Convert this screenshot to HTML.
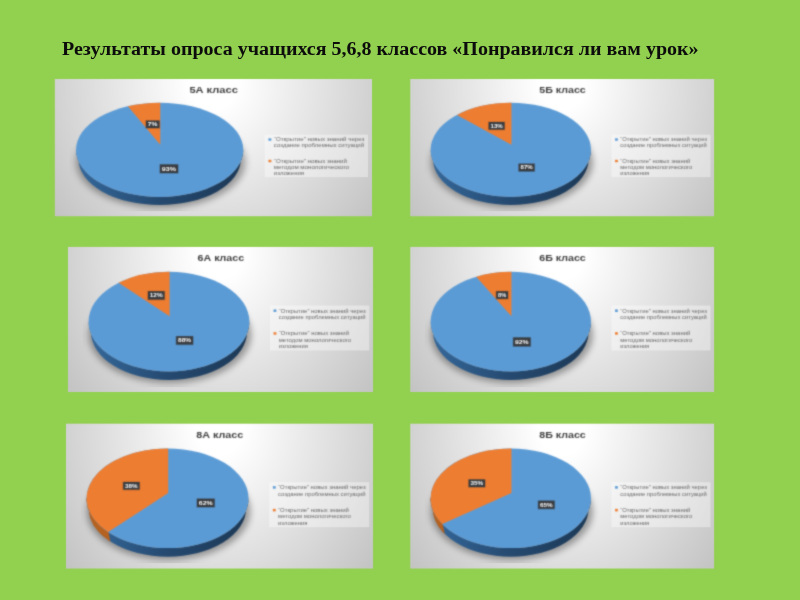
<!DOCTYPE html>
<html lang="ru">
<head>
<meta charset="utf-8">
<title>Результаты опроса</title>
<style>
html,body{margin:0;padding:0;}
body{width:800px;height:600px;overflow:hidden;background:#92d050;position:relative;
font-family:"Liberation Sans",sans-serif;}
.ttl{position:absolute;left:62.3px;top:36.7px;transform:scaleX(1.081);transform-origin:0 0;margin:0;white-space:nowrap;
font-family:"Liberation Serif",serif;font-weight:bold;font-size:18.5px;line-height:24px;color:#0c0c0c;
}
.root{position:absolute;left:0;top:0;display:block;}
.root text{font-family:"Liberation Sans",sans-serif;}
</style>
</head>
<body>
<h1 class="ttl">Результаты опроса учащихся 5,6,8 классов «Понравился ли вам урок»</h1>
<svg class="root" width="800" height="600" viewBox="0 0 800 600">
<defs>
<filter id="edge" x="-3%" y="-5%" width="106%" height="110%" color-interpolation-filters="sRGB">
<feConvolveMatrix order="3" kernelMatrix="1 6 1 6 36 6 1 6 1" edgeMode="none" preserveAlpha="false"/>
</filter>
</defs>

<g filter="url(#edge)"><svg x="54.6" y="79" width="317.4" height="137.4" viewBox="0 0 304 144.5" preserveAspectRatio="none" overflow="hidden">
<defs><radialGradient id="bgg0" gradientUnits="userSpaceOnUse" cx="0" cy="0" r="1" gradientTransform="translate(152 5) scale(190 220)"><stop offset="0" stop-color="#ffffff"/><stop offset="0.12" stop-color="#ffffff"/><stop offset="1" stop-color="#c4c4c4"/></radialGradient><linearGradient id="sbg0" x1="0" x2="1" y1="0" y2="0"><stop offset="0" stop-color="#34689b"/><stop offset="0.5" stop-color="#25496f"/><stop offset="1" stop-color="#1c3855"/></linearGradient><filter id="shg0" x="-20%" y="-20%" width="140%" height="160%"><feGaussianBlur stdDeviation="3.4"/></filter><filter id="blg0" x="-2%" y="-2%" width="104%" height="104%" color-interpolation-filters="sRGB"><feConvolveMatrix order="3" kernelMatrix="1 7 1 7 49 7 1 7 1" edgeMode="duplicate" preserveAlpha="false"/></filter></defs>
<rect x="0" y="0" width="304" height="144.5" fill="url(#bgg0)"/>
<rect x="201.2" y="58.5" width="99" height="44.7" fill="#ffffff" fill-opacity="0.38"/>
<g filter="url(#blg0)">
<ellipse cx="101.62" cy="87.5" rx="81.12" ry="48.5" fill="#000" fill-opacity="0.34" filter="url(#shg0)"/>
<path d="M20.5 74.5 A80.12 49.5 0 0 0 180.75 74.5 L178.35 84.5 A77.72 48.02 0 0 1 22.9 84.5 Z" fill="url(#sbg0)"/>
<ellipse cx="100.62" cy="74.5" rx="80.12" ry="49.5" fill="#5b9bd5"/>
<path d="M101.25 69.25 L101.25 25 A80.12 49.5 0 0 0 70.22 28.7 Z" fill="#ed7d31"/>
<rect x="86.94" y="43.45" width="14.03" height="8.78" fill="#2a2d30" fill-opacity="0.35"/>
<rect x="87.54" y="43.75" width="12.83" height="7.78" fill="#383b3f"/>
<text x="93.96" y="49.69" text-anchor="middle" font-size="5.7" font-weight="bold" fill="#fff" textLength="9.23" lengthAdjust="spacingAndGlyphs">7%</text>
<rect x="100.35" y="89.62" width="18.44" height="9.94" fill="#2a2d30" fill-opacity="0.35"/>
<rect x="100.95" y="89.92" width="17.24" height="8.94" fill="#383b3f"/>
<text x="109.57" y="96.44" text-anchor="middle" font-size="5.7" font-weight="bold" fill="#fff" textLength="13.64" lengthAdjust="spacingAndGlyphs">93%</text>
<text x="152.3" y="14.3" text-anchor="middle" font-size="8.9" font-weight="bold" fill="#3c3c3c" textLength="46.4" lengthAdjust="spacingAndGlyphs">5А класс</text>
<rect x="204.8" y="62.4" width="2.8" height="2.5" fill="#5b9bd5"/>
<rect x="204.8" y="85.0" width="2.8" height="2.5" fill="#ed7d31"/>
<g>
<text x="210" y="65.6" font-size="5.15" fill="#686868" textLength="86.7" lengthAdjust="spacingAndGlyphs">“Открытие” новых знаний через</text>
<text x="210" y="72" font-size="5.15" fill="#686868" textLength="86.5" lengthAdjust="spacingAndGlyphs">создание проблемных ситуаций</text>
<text x="210" y="88.1" font-size="5.15" fill="#686868" textLength="70" lengthAdjust="spacingAndGlyphs">“Открытие” новых знаний</text>
<text x="210" y="94.4" font-size="5.15" fill="#686868" textLength="72" lengthAdjust="spacingAndGlyphs">методом монологического</text>
<text x="210" y="100.6" font-size="5.15" fill="#686868" textLength="29" lengthAdjust="spacingAndGlyphs">изложения</text>
</g>
</g>
</svg></g>
<g filter="url(#edge)"><svg x="410.15" y="79" width="304.15" height="137.4" viewBox="0 0 304 144.5" preserveAspectRatio="none" overflow="hidden">
<defs><radialGradient id="bgg1" gradientUnits="userSpaceOnUse" cx="0" cy="0" r="1" gradientTransform="translate(152 5) scale(190 220)"><stop offset="0" stop-color="#ffffff"/><stop offset="0.12" stop-color="#ffffff"/><stop offset="1" stop-color="#c4c4c4"/></radialGradient><linearGradient id="sbg1" x1="0" x2="1" y1="0" y2="0"><stop offset="0" stop-color="#34689b"/><stop offset="0.5" stop-color="#25496f"/><stop offset="1" stop-color="#1c3855"/></linearGradient><filter id="shg1" x="-20%" y="-20%" width="140%" height="160%"><feGaussianBlur stdDeviation="3.4"/></filter><filter id="blg1" x="-2%" y="-2%" width="104%" height="104%" color-interpolation-filters="sRGB"><feConvolveMatrix order="3" kernelMatrix="1 7 1 7 49 7 1 7 1" edgeMode="duplicate" preserveAlpha="false"/></filter></defs>
<rect x="0" y="0" width="304" height="144.5" fill="url(#bgg1)"/>
<rect x="201.2" y="58.5" width="99" height="44.7" fill="#ffffff" fill-opacity="0.38"/>
<g filter="url(#blg1)">
<ellipse cx="101.62" cy="87.5" rx="81.12" ry="48.5" fill="#000" fill-opacity="0.34" filter="url(#shg1)"/>
<path d="M20.5 74.5 A80.12 49.5 0 0 0 180.75 74.5 L178.35 84.5 A77.72 48.02 0 0 1 22.9 84.5 Z" fill="url(#sbg1)"/>
<ellipse cx="100.62" cy="74.5" rx="80.12" ry="49.5" fill="#5b9bd5"/>
<path d="M101.25 69.25 L101.25 25 A80.12 49.5 0 0 0 46.83 37.81 Z" fill="#ed7d31"/>
<rect x="77.96" y="44.92" width="16.94" height="8.89" fill="#2a2d30" fill-opacity="0.35"/>
<rect x="78.56" y="45.22" width="15.74" height="7.89" fill="#383b3f"/>
<text x="86.43" y="51.22" text-anchor="middle" font-size="5.7" font-weight="bold" fill="#fff" textLength="12.14" lengthAdjust="spacingAndGlyphs">13%</text>
<rect x="107.95" y="88.83" width="16.94" height="8.89" fill="#2a2d30" fill-opacity="0.35"/>
<rect x="108.55" y="89.13" width="15.74" height="7.89" fill="#383b3f"/>
<text x="116.42" y="95.12" text-anchor="middle" font-size="5.7" font-weight="bold" fill="#fff" textLength="12.14" lengthAdjust="spacingAndGlyphs">87%</text>
<text x="152.3" y="14.3" text-anchor="middle" font-size="8.9" font-weight="bold" fill="#3c3c3c" textLength="46.4" lengthAdjust="spacingAndGlyphs">5Б класс</text>
<rect x="204.8" y="62.4" width="2.8" height="2.5" fill="#5b9bd5"/>
<rect x="204.8" y="85.0" width="2.8" height="2.5" fill="#ed7d31"/>
<g>
<text x="210" y="65.6" font-size="5.15" fill="#686868" textLength="86.7" lengthAdjust="spacingAndGlyphs">“Открытие” новых знаний через</text>
<text x="210" y="72" font-size="5.15" fill="#686868" textLength="86.5" lengthAdjust="spacingAndGlyphs">создание проблемных ситуаций</text>
<text x="210" y="88.1" font-size="5.15" fill="#686868" textLength="70" lengthAdjust="spacingAndGlyphs">“Открытие” новых знаний</text>
<text x="210" y="94.4" font-size="5.15" fill="#686868" textLength="72" lengthAdjust="spacingAndGlyphs">методом монологического</text>
<text x="210" y="100.6" font-size="5.15" fill="#686868" textLength="29" lengthAdjust="spacingAndGlyphs">изложения</text>
</g>
</g>
</svg></g>
<g filter="url(#edge)"><svg x="68" y="246.7" width="305.1" height="145.3" viewBox="0 0 304 144.5" preserveAspectRatio="none" overflow="hidden">
<defs><radialGradient id="bgg2" gradientUnits="userSpaceOnUse" cx="0" cy="0" r="1" gradientTransform="translate(152 5) scale(190 220)"><stop offset="0" stop-color="#ffffff"/><stop offset="0.12" stop-color="#ffffff"/><stop offset="1" stop-color="#c4c4c4"/></radialGradient><linearGradient id="sbg2" x1="0" x2="1" y1="0" y2="0"><stop offset="0" stop-color="#34689b"/><stop offset="0.5" stop-color="#25496f"/><stop offset="1" stop-color="#1c3855"/></linearGradient><filter id="shg2" x="-20%" y="-20%" width="140%" height="160%"><feGaussianBlur stdDeviation="3.4"/></filter><filter id="blg2" x="-2%" y="-2%" width="104%" height="104%" color-interpolation-filters="sRGB"><feConvolveMatrix order="3" kernelMatrix="1 7 1 7 49 7 1 7 1" edgeMode="duplicate" preserveAlpha="false"/></filter></defs>
<rect x="0" y="0" width="304" height="144.5" fill="url(#bgg2)"/>
<rect x="201.2" y="58.5" width="99" height="44.7" fill="#ffffff" fill-opacity="0.38"/>
<g filter="url(#blg2)">
<ellipse cx="101.62" cy="87.5" rx="81.12" ry="48.5" fill="#000" fill-opacity="0.34" filter="url(#shg2)"/>
<path d="M20.5 74.5 A80.12 49.5 0 0 0 180.75 74.5 L178.35 84.5 A77.72 48.02 0 0 1 22.9 84.5 Z" fill="url(#sbg2)"/>
<ellipse cx="100.62" cy="74.5" rx="80.12" ry="49.5" fill="#5b9bd5"/>
<path d="M101.25 69.25 L101.25 25 A80.12 49.5 0 0 0 50.39 35.94 Z" fill="#ed7d31"/>
<rect x="79.11" y="44" width="17.64" height="9.2" fill="#2a2d30" fill-opacity="0.35"/>
<rect x="79.71" y="44.3" width="16.44" height="8.2" fill="#383b3f"/>
<text x="87.93" y="50.46" text-anchor="middle" font-size="5.7" font-weight="bold" fill="#fff" textLength="12.84" lengthAdjust="spacingAndGlyphs">12%</text>
<rect x="107.26" y="88.76" width="17.89" height="9.2" fill="#2a2d30" fill-opacity="0.35"/>
<rect x="107.86" y="89.06" width="16.69" height="8.2" fill="#383b3f"/>
<text x="116.2" y="95.21" text-anchor="middle" font-size="5.7" font-weight="bold" fill="#fff" textLength="13.09" lengthAdjust="spacingAndGlyphs">88%</text>
<text x="152.3" y="14.3" text-anchor="middle" font-size="8.9" font-weight="bold" fill="#3c3c3c" textLength="46.4" lengthAdjust="spacingAndGlyphs">6А класс</text>
<rect x="204.8" y="62.4" width="2.8" height="2.5" fill="#5b9bd5"/>
<rect x="204.8" y="85.0" width="2.8" height="2.5" fill="#ed7d31"/>
<g>
<text x="210" y="65.6" font-size="5.15" fill="#686868" textLength="86.7" lengthAdjust="spacingAndGlyphs">“Открытие” новых знаний через</text>
<text x="210" y="72" font-size="5.15" fill="#686868" textLength="86.5" lengthAdjust="spacingAndGlyphs">создание проблемных ситуаций</text>
<text x="210" y="88.1" font-size="5.15" fill="#686868" textLength="70" lengthAdjust="spacingAndGlyphs">“Открытие” новых знаний</text>
<text x="210" y="94.4" font-size="5.15" fill="#686868" textLength="72" lengthAdjust="spacingAndGlyphs">методом монологического</text>
<text x="210" y="100.6" font-size="5.15" fill="#686868" textLength="29" lengthAdjust="spacingAndGlyphs">изложения</text>
</g>
</g>
</svg></g>
<g filter="url(#edge)"><svg x="410.15" y="246.7" width="304.15" height="145.3" viewBox="0 0 304 144.5" preserveAspectRatio="none" overflow="hidden">
<defs><radialGradient id="bgg3" gradientUnits="userSpaceOnUse" cx="0" cy="0" r="1" gradientTransform="translate(152 5) scale(190 220)"><stop offset="0" stop-color="#ffffff"/><stop offset="0.12" stop-color="#ffffff"/><stop offset="1" stop-color="#c4c4c4"/></radialGradient><linearGradient id="sbg3" x1="0" x2="1" y1="0" y2="0"><stop offset="0" stop-color="#34689b"/><stop offset="0.5" stop-color="#25496f"/><stop offset="1" stop-color="#1c3855"/></linearGradient><filter id="shg3" x="-20%" y="-20%" width="140%" height="160%"><feGaussianBlur stdDeviation="3.4"/></filter><filter id="blg3" x="-2%" y="-2%" width="104%" height="104%" color-interpolation-filters="sRGB"><feConvolveMatrix order="3" kernelMatrix="1 7 1 7 49 7 1 7 1" edgeMode="duplicate" preserveAlpha="false"/></filter></defs>
<rect x="0" y="0" width="304" height="144.5" fill="url(#bgg3)"/>
<rect x="201.2" y="58.5" width="99" height="44.7" fill="#ffffff" fill-opacity="0.38"/>
<g filter="url(#blg3)">
<ellipse cx="101.62" cy="87.5" rx="81.12" ry="48.5" fill="#000" fill-opacity="0.34" filter="url(#shg3)"/>
<path d="M20.5 74.5 A80.12 49.5 0 0 0 180.75 74.5 L178.35 84.5 A77.72 48.02 0 0 1 22.9 84.5 Z" fill="url(#sbg3)"/>
<ellipse cx="100.62" cy="74.5" rx="80.12" ry="49.5" fill="#5b9bd5"/>
<path d="M101.25 69.25 L101.25 25 A80.12 49.5 0 0 0 66.03 29.85 Z" fill="#ed7d31"/>
<rect x="85.46" y="44" width="12.94" height="8.46" fill="#2a2d30" fill-opacity="0.35"/>
<rect x="86.06" y="44.3" width="11.74" height="7.46" fill="#383b3f"/>
<text x="91.93" y="50.08" text-anchor="middle" font-size="5.7" font-weight="bold" fill="#fff" textLength="8.14" lengthAdjust="spacingAndGlyphs">8%</text>
<rect x="102.45" y="90" width="18.44" height="9.7" fill="#2a2d30" fill-opacity="0.35"/>
<rect x="103.05" y="90.3" width="17.24" height="8.7" fill="#383b3f"/>
<text x="111.67" y="96.7" text-anchor="middle" font-size="5.7" font-weight="bold" fill="#fff" textLength="13.64" lengthAdjust="spacingAndGlyphs">92%</text>
<text x="152.3" y="14.3" text-anchor="middle" font-size="8.9" font-weight="bold" fill="#3c3c3c" textLength="46.4" lengthAdjust="spacingAndGlyphs">6Б класс</text>
<rect x="204.8" y="62.4" width="2.8" height="2.5" fill="#5b9bd5"/>
<rect x="204.8" y="85.0" width="2.8" height="2.5" fill="#ed7d31"/>
<g>
<text x="210" y="65.6" font-size="5.15" fill="#686868" textLength="86.7" lengthAdjust="spacingAndGlyphs">“Открытие” новых знаний через</text>
<text x="210" y="72" font-size="5.15" fill="#686868" textLength="86.5" lengthAdjust="spacingAndGlyphs">создание проблемных ситуаций</text>
<text x="210" y="88.1" font-size="5.15" fill="#686868" textLength="70" lengthAdjust="spacingAndGlyphs">“Открытие” новых знаний</text>
<text x="210" y="94.4" font-size="5.15" fill="#686868" textLength="72" lengthAdjust="spacingAndGlyphs">методом монологического</text>
<text x="210" y="100.6" font-size="5.15" fill="#686868" textLength="29" lengthAdjust="spacingAndGlyphs">изложения</text>
</g>
</g>
</svg></g>
<g filter="url(#edge)"><svg x="65.9" y="423.4" width="307.2" height="145.3" viewBox="0 0 304 144.5" preserveAspectRatio="none" overflow="hidden">
<defs><radialGradient id="bgg4" gradientUnits="userSpaceOnUse" cx="0" cy="0" r="1" gradientTransform="translate(152 5) scale(190 220)"><stop offset="0" stop-color="#ffffff"/><stop offset="0.12" stop-color="#ffffff"/><stop offset="1" stop-color="#c4c4c4"/></radialGradient><linearGradient id="sbg4" x1="0" x2="1" y1="0" y2="0"><stop offset="0" stop-color="#34689b"/><stop offset="0.5" stop-color="#25496f"/><stop offset="1" stop-color="#1c3855"/></linearGradient><filter id="shg4" x="-20%" y="-20%" width="140%" height="160%"><feGaussianBlur stdDeviation="3.4"/></filter><filter id="blg4" x="-2%" y="-2%" width="104%" height="104%" color-interpolation-filters="sRGB"><feConvolveMatrix order="3" kernelMatrix="1 7 1 7 49 7 1 7 1" edgeMode="duplicate" preserveAlpha="false"/></filter></defs>
<rect x="0" y="0" width="304" height="144.5" fill="url(#bgg4)"/>
<rect x="201.2" y="58.5" width="99" height="44.7" fill="#ffffff" fill-opacity="0.38"/>
<g filter="url(#blg4)">
<ellipse cx="101.62" cy="87.5" rx="81.12" ry="48.5" fill="#000" fill-opacity="0.34" filter="url(#shg4)"/>
<path d="M20.5 74.5 A80.12 49.5 0 0 0 180.75 74.5 L178.35 84.5 A77.72 48.02 0 0 1 22.9 84.5 Z" fill="url(#sbg4)"/>
<path d="M20.5 74.5 A80.12 49.5 0 0 0 41.81 108.12 L43.58 117.11 A77.72 48.02 0 0 1 22.9 84.5 Z" fill="#b5611f" stroke="#b5611f" stroke-width="0.7"/>
<ellipse cx="100.62" cy="74.5" rx="80.12" ry="49.5" fill="#5b9bd5"/>
<path d="M101.25 69.25 L101.25 25 A80.12 49.5 0 0 0 41.81 108.12 Z" fill="#ed7d31"/>
<rect x="56.15" y="57.98" width="17.28" height="8.46" fill="#2a2d30" fill-opacity="0.35"/>
<rect x="56.75" y="58.28" width="16.08" height="7.46" fill="#383b3f"/>
<text x="64.79" y="64.06" text-anchor="middle" font-size="5.7" font-weight="bold" fill="#fff" textLength="12.48" lengthAdjust="spacingAndGlyphs">38%</text>
<rect x="129.13" y="74.64" width="18.52" height="9.2" fill="#2a2d30" fill-opacity="0.35"/>
<rect x="129.73" y="74.94" width="17.32" height="8.2" fill="#383b3f"/>
<text x="138.39" y="81.09" text-anchor="middle" font-size="5.7" font-weight="bold" fill="#fff" textLength="13.72" lengthAdjust="spacingAndGlyphs">62%</text>
<text x="152.3" y="14.3" text-anchor="middle" font-size="8.9" font-weight="bold" fill="#3c3c3c" textLength="46.4" lengthAdjust="spacingAndGlyphs">8А класс</text>
<rect x="204.8" y="62.4" width="2.8" height="2.5" fill="#5b9bd5"/>
<rect x="204.8" y="85.0" width="2.8" height="2.5" fill="#ed7d31"/>
<g>
<text x="210" y="65.6" font-size="5.15" fill="#686868" textLength="86.7" lengthAdjust="spacingAndGlyphs">“Открытие” новых знаний через</text>
<text x="210" y="72" font-size="5.15" fill="#686868" textLength="86.5" lengthAdjust="spacingAndGlyphs">создание проблемных ситуаций</text>
<text x="210" y="88.1" font-size="5.15" fill="#686868" textLength="70" lengthAdjust="spacingAndGlyphs">“Открытие” новых знаний</text>
<text x="210" y="94.4" font-size="5.15" fill="#686868" textLength="72" lengthAdjust="spacingAndGlyphs">методом монологического</text>
<text x="210" y="100.6" font-size="5.15" fill="#686868" textLength="29" lengthAdjust="spacingAndGlyphs">изложения</text>
</g>
</g>
</svg></g>
<g filter="url(#edge)"><svg x="410.15" y="423.4" width="304.15" height="145.3" viewBox="0 0 304 144.5" preserveAspectRatio="none" overflow="hidden">
<defs><radialGradient id="bgg5" gradientUnits="userSpaceOnUse" cx="0" cy="0" r="1" gradientTransform="translate(152 5) scale(190 220)"><stop offset="0" stop-color="#ffffff"/><stop offset="0.12" stop-color="#ffffff"/><stop offset="1" stop-color="#c4c4c4"/></radialGradient><linearGradient id="sbg5" x1="0" x2="1" y1="0" y2="0"><stop offset="0" stop-color="#34689b"/><stop offset="0.5" stop-color="#25496f"/><stop offset="1" stop-color="#1c3855"/></linearGradient><filter id="shg5" x="-20%" y="-20%" width="140%" height="160%"><feGaussianBlur stdDeviation="3.4"/></filter><filter id="blg5" x="-2%" y="-2%" width="104%" height="104%" color-interpolation-filters="sRGB"><feConvolveMatrix order="3" kernelMatrix="1 7 1 7 49 7 1 7 1" edgeMode="duplicate" preserveAlpha="false"/></filter></defs>
<rect x="0" y="0" width="304" height="144.5" fill="url(#bgg5)"/>
<rect x="201.2" y="58.5" width="99" height="44.7" fill="#ffffff" fill-opacity="0.38"/>
<g filter="url(#blg5)">
<ellipse cx="101.62" cy="87.5" rx="81.12" ry="48.5" fill="#000" fill-opacity="0.34" filter="url(#shg5)"/>
<path d="M20.5 74.5 A80.12 49.5 0 0 0 180.75 74.5 L178.35 84.5 A77.72 48.02 0 0 1 22.9 84.5 Z" fill="url(#sbg5)"/>
<path d="M20.5 74.5 A80.12 49.5 0 0 0 32.06 100.11 L34.11 109.34 A77.72 48.02 0 0 1 22.9 84.5 Z" fill="#b5611f" stroke="#b5611f" stroke-width="0.7"/>
<ellipse cx="100.62" cy="74.5" rx="80.12" ry="49.5" fill="#5b9bd5"/>
<path d="M101.25 69.25 L101.25 25 A80.12 49.5 0 0 0 32.06 100.11 Z" fill="#ed7d31"/>
<rect x="57.97" y="55.49" width="17.44" height="8.46" fill="#2a2d30" fill-opacity="0.35"/>
<rect x="58.57" y="55.79" width="16.24" height="7.46" fill="#383b3f"/>
<text x="66.69" y="61.57" text-anchor="middle" font-size="5.7" font-weight="bold" fill="#fff" textLength="12.64" lengthAdjust="spacingAndGlyphs">35%</text>
<rect x="127.44" y="76.62" width="17.44" height="8.96" fill="#2a2d30" fill-opacity="0.35"/>
<rect x="128.04" y="76.92" width="16.24" height="7.96" fill="#383b3f"/>
<text x="136.16" y="82.95" text-anchor="middle" font-size="5.7" font-weight="bold" fill="#fff" textLength="12.64" lengthAdjust="spacingAndGlyphs">65%</text>
<text x="152.3" y="14.3" text-anchor="middle" font-size="8.9" font-weight="bold" fill="#3c3c3c" textLength="46.4" lengthAdjust="spacingAndGlyphs">8Б класс</text>
<rect x="204.8" y="62.4" width="2.8" height="2.5" fill="#5b9bd5"/>
<rect x="204.8" y="85.0" width="2.8" height="2.5" fill="#ed7d31"/>
<g>
<text x="210" y="65.6" font-size="5.15" fill="#686868" textLength="86.7" lengthAdjust="spacingAndGlyphs">“Открытие” новых знаний через</text>
<text x="210" y="72" font-size="5.15" fill="#686868" textLength="86.5" lengthAdjust="spacingAndGlyphs">создание проблемных ситуаций</text>
<text x="210" y="88.1" font-size="5.15" fill="#686868" textLength="70" lengthAdjust="spacingAndGlyphs">“Открытие” новых знаний</text>
<text x="210" y="94.4" font-size="5.15" fill="#686868" textLength="72" lengthAdjust="spacingAndGlyphs">методом монологического</text>
<text x="210" y="100.6" font-size="5.15" fill="#686868" textLength="29" lengthAdjust="spacingAndGlyphs">изложения</text>
</g>
</g>
</svg></g>
</svg>
</body>
</html>
